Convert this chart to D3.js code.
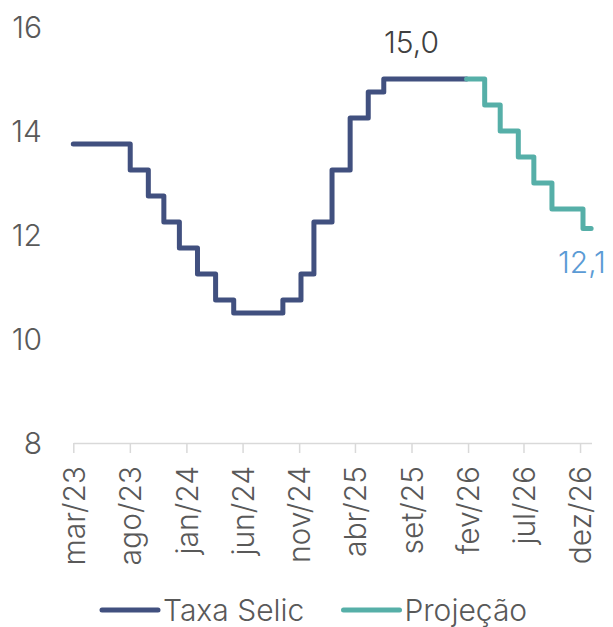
<!DOCTYPE html>
<style>
body { margin: 0; background: #fff; }
</style>
<svg width="613" height="627" font-family="Inter, 'Noto Sans', sans-serif" font-weight="300"></svg>
<script src="https://d3js.org/d3.v7.min.js"></script>
<script>

// Taxa Selic: dates of each change (step after) and the level
const selicDates = ['2023-03-01', '2023-08-02', '2023-09-20', '2023-11-01', '2023-12-13', '2024-01-31',
	'2024-03-20', '2024-05-08', '2024-09-18', '2024-11-06', '2024-12-11', '2025-01-29',
	'2025-03-19', '2025-05-07', '2025-06-18', '2026-01-28'];
const selicValues = [13.75, 13.25, 12.75, 12.25, 11.75, 11.25, 10.75, 10.5, 10.75, 11.25, 12.25, 13.25,
	14.25, 14.75, 15.0, 15.0];

// Projeção
const projDates = ['2026-01-28', '2026-03-18', '2026-04-29', '2026-06-17', '2026-07-29', '2026-09-16',
	'2026-12-09', '2026-12-31'];
const projValues = [15.0, 14.5, 14.0, 13.5, 13.0, 12.5, 12.125, 12.125];

const tickDates = ['2023-03-01', '2023-08-01', '2024-01-01', '2024-06-01', '2024-11-01', '2025-04-01',
	'2025-09-01', '2026-02-01', '2026-07-01', '2026-12-01'];
const tickLabels = ['mar/23', 'ago/23', 'jan/24', 'jun/24', 'nov/24', 'abr/25', 'set/25', 'fev/26', 'jul/26', 'dez/26'];
const yTicks = [8, 10, 12, 14, 16];

const seriesNames = ['Taxa Selic', 'Projeção'];
const seriesColors = ['#41507f', '#56afa8'];

const parse = d3.utcParse('%Y-%m-%d');
const svg = d3.select('svg');

const x = d3.scaleUtc()
	.domain([parse('2023-03-01'), parse('2027-01-01')])
	.range([73.3, 591.5]);
const y = d3.scaleLinear()
	.domain([8, 16])
	.range([443, 27]);

// y labels (no axis line)
svg.append('g')
	.selectAll('text')
	.data(yTicks)
	.enter().append('text')
	.attr('x', 42)
	.attr('y', (d) => y(d))
	.attr('dy', '0.36em')
	.attr('text-anchor', 'end')
	.attr('font-size', 30)
	.attr('fill', '#595959')
	.text((d) => d);

// x axis
const xAxis = svg.append('g')
	.attr('transform', `translate(0,${y(8)})`)
	.call(d3.axisBottom(x)
		.tickValues(tickDates.map(parse))
		.tickSize(10)
		.tickSizeOuter(0)
		.tickFormat((d, i) => tickLabels[i]))
	.attr('font-family', null)
	.attr('font-size', 30);
xAxis.select('.domain').attr('stroke', '#d9d9d9').attr('stroke-width', 1.5);
xAxis.selectAll('.tick line').attr('stroke', '#d9d9d9').attr('stroke-width', 1.5);
xAxis.selectAll('.tick text')
	.attr('fill', '#595959')
	.attr('text-anchor', 'end')
	.attr('transform', 'rotate(-90)')
	.attr('x', -23)
	.attr('y', 0)
	.attr('dy', '0.36em');

const line = d3.line()
	.x((d) => x(d[0]))
	.y((d) => y(d[1]))
	.curve(d3.curveStepAfter);

const series = [
	d3.zip(selicDates.map(parse), selicValues),
	d3.zip(projDates.map(parse), projValues),
];

svg.append('g')
	.selectAll('path')
	.data(series)
	.enter().append('path')
	.attr('d', line)
	.attr('fill', 'none')
	.attr('stroke', (d, i) => seriesColors[i])
	.attr('stroke-width', 5)
	.attr('stroke-linejoin', 'round')
	.attr('stroke-linecap', 'round');

// data labels
svg.append('text')
	.attr('x', x(parse('2025-09-01')))
	.attr('y', y(15.0) - 26)
	.attr('text-anchor', 'middle')
	.attr('font-size', 30)
	.attr('fill', '#404040')
	.text('15,0');

svg.append('text')
	.attr('x', 558)
	.attr('y', 273)
	.attr('font-size', 30)
	.attr('fill', '#5b9bd5')
	.text(d3.format('.1f')(projValues[projValues.length - 1]).replace('.', ','));

// legend
const legendX = [102, 343.5];
const legend = svg.append('g')
	.selectAll('g')
	.data(seriesNames)
	.enter().append('g')
	.attr('transform', (d, i) => `translate(${legendX[i]},610)`);
legend.append('line')
	.attr('x1', 0)
	.attr('x2', 56)
	.attr('stroke', (d, i) => seriesColors[i])
	.attr('stroke-width', 5)
	.attr('stroke-linecap', 'round');
legend.append('text')
	.attr('x', 61)
	.attr('y', 10.7)
	.attr('font-size', 30)
	.attr('fill', '#595959')
	.text((d) => d);

</script>
